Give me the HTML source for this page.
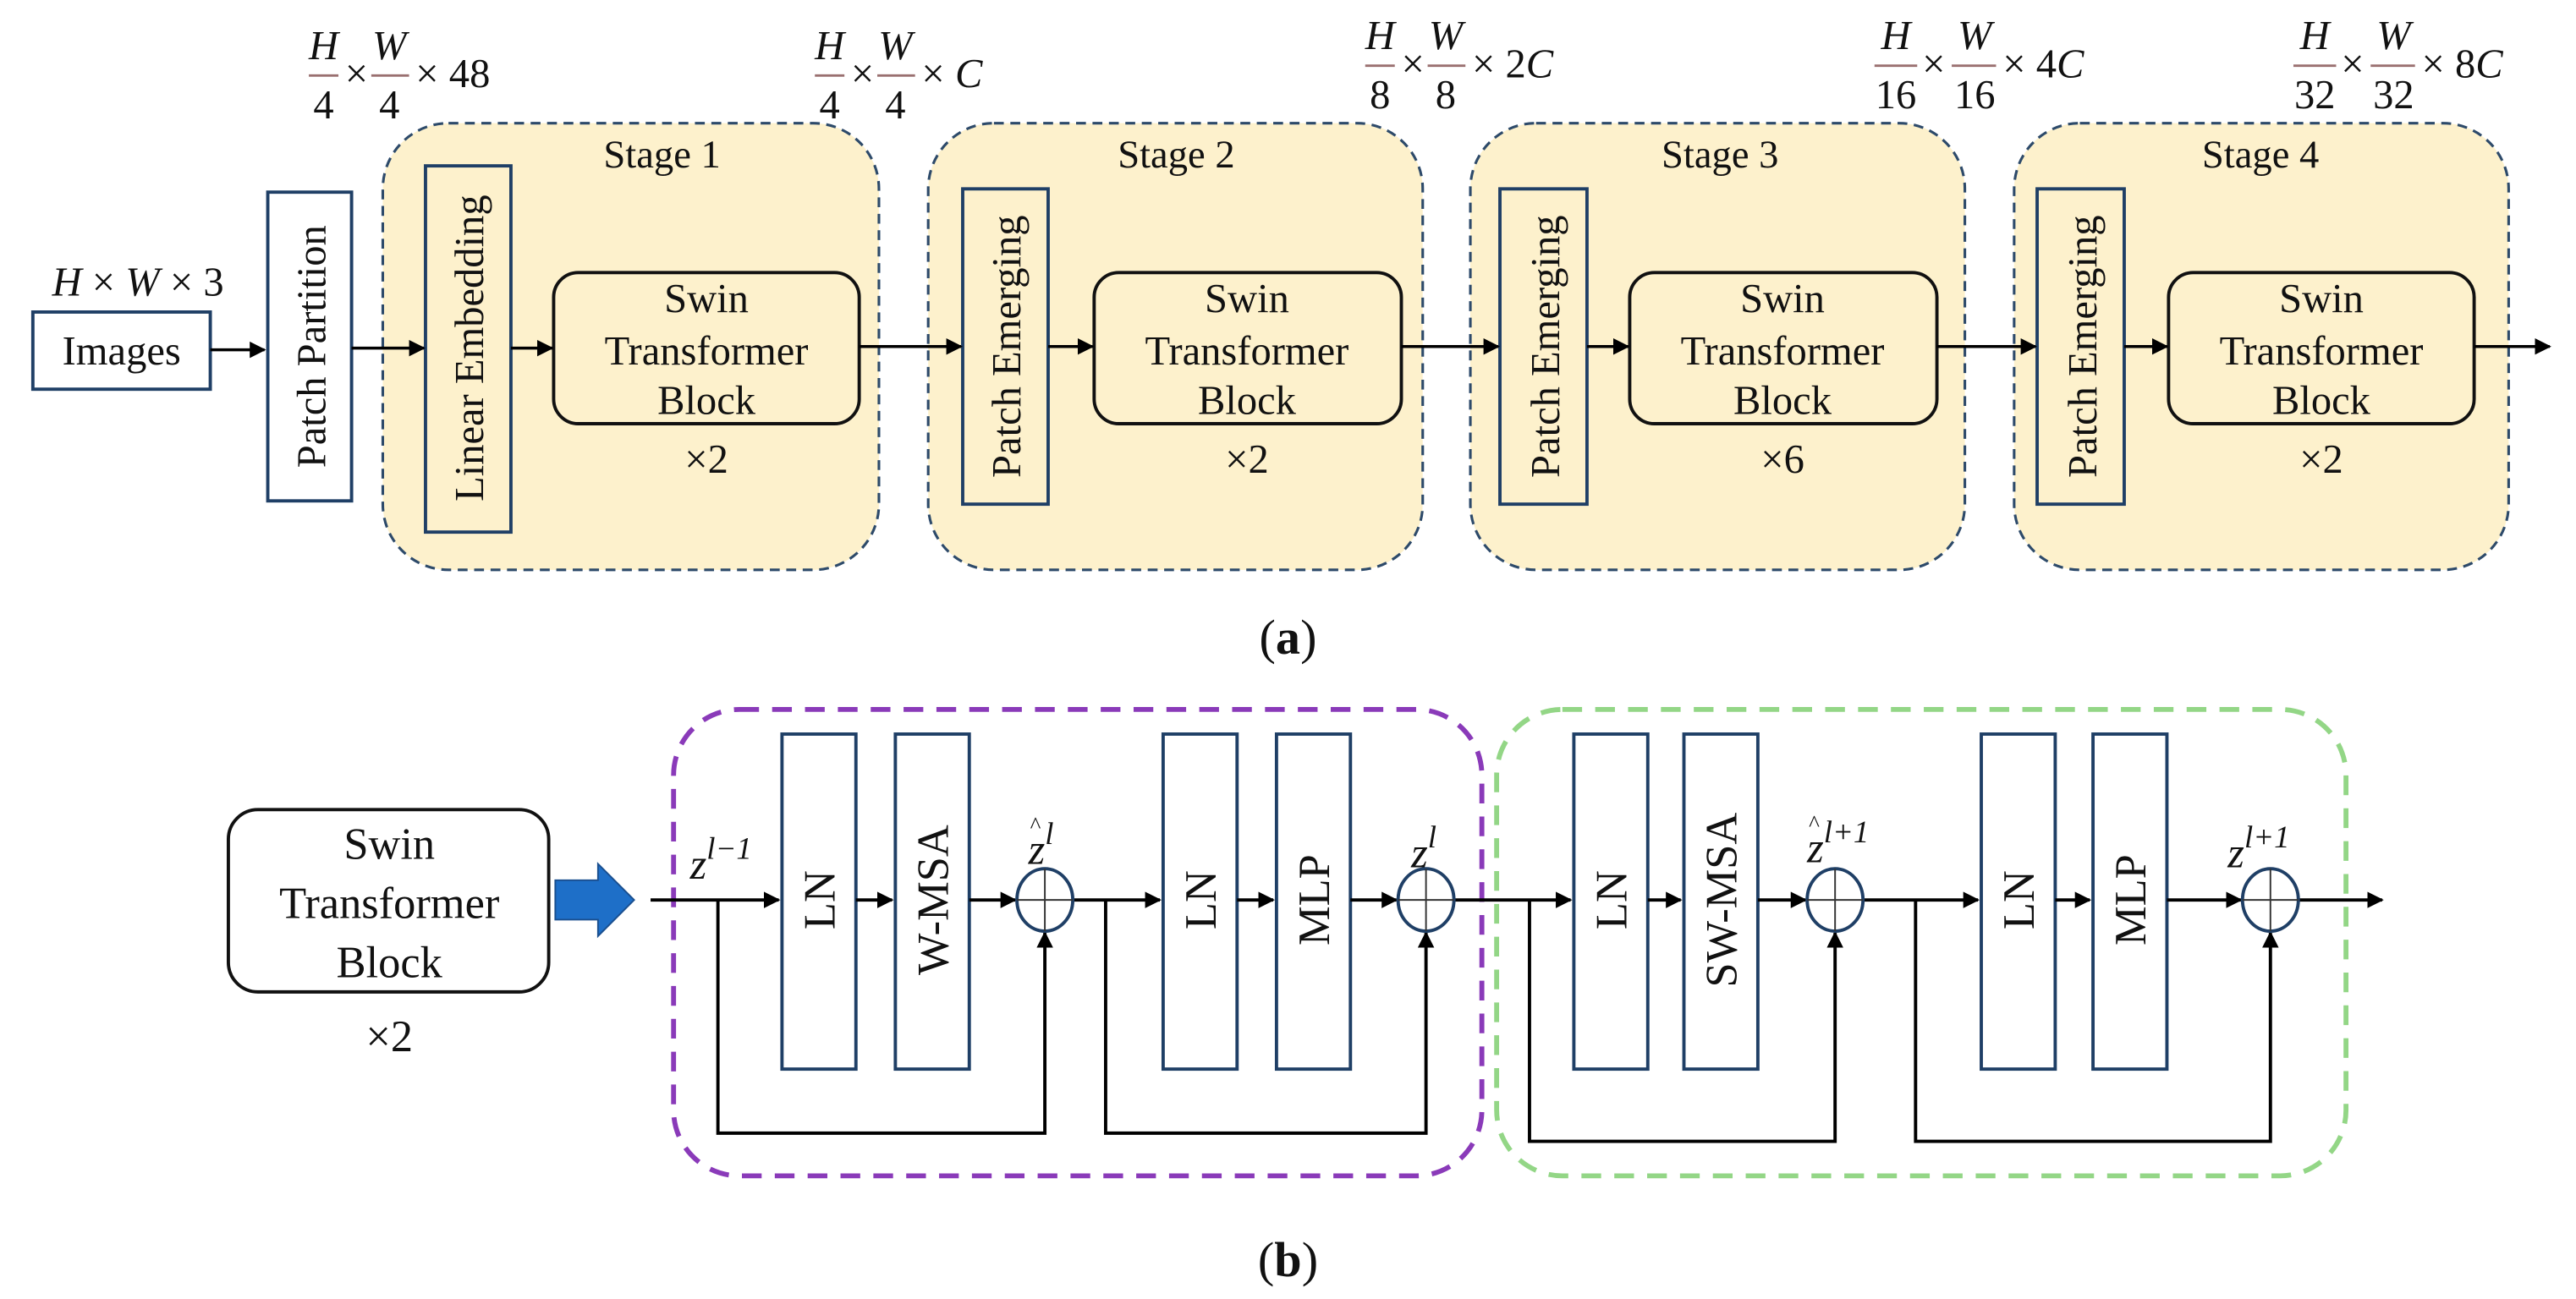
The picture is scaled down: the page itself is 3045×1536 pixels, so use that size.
<!DOCTYPE html>
<html><head><meta charset="utf-8"><style>
html,body{margin:0;padding:0;background:#fff;}
svg{display:block;font-family:"Liberation Serif","DejaVu Serif",serif;}
svg text{font-family:"Liberation Serif","DejaVu Serif",serif !important;fill:#111;}
.it{font-style:italic;}
</style></head><body>
<svg width="3045" height="1536" viewBox="0 0 1568 791" preserveAspectRatio="none" xmlns="http://www.w3.org/2000/svg" font-family="Liberation Serif, serif">
<defs>
<marker id="ah" markerWidth="10" markerHeight="10" refX="9" refY="5" orient="auto" markerUnits="userSpaceOnUse">
<path d="M0,0 L10,5 L0,10 Z" fill="#000"/></marker>
</defs>
<rect width="1568" height="791" fill="#fff"/>

<g fill="#fdf1cc" stroke="#2d4a6a" stroke-width="1.6" stroke-dasharray="6 4">
<rect x="233" y="75" width="302" height="272" rx="40"/>
<rect x="565" y="75" width="301" height="272" rx="40"/>
<rect x="895" y="75" width="301" height="272" rx="40"/>
<rect x="1226" y="75" width="301" height="272" rx="40"/>
</g>
<g font-size="24" text-anchor="middle">
<text x="403" y="102">Stage 1</text>
<text x="716" y="102">Stage 2</text>
<text x="1047" y="102">Stage 3</text>
<text x="1376" y="102">Stage 4</text>
</g>

<text x="84" y="180" font-size="25" text-anchor="middle"><tspan class="it">H</tspan> × <tspan class="it">W</tspan> × 3</text>
<rect x="20" y="190" width="108" height="47" fill="#fff" stroke="#1f3f66" stroke-width="2"/>
<text x="74" y="222" font-size="25" text-anchor="middle">Images</text>
<rect x="163" y="117" width="51" height="188" fill="#fff" stroke="#1f3f66" stroke-width="2"/>
<text transform="translate(198,211) rotate(-90)" font-size="25" text-anchor="middle">Patch Partition</text>

<g fill="none" stroke="#1f3f66" stroke-width="2">
<rect x="259" y="101" width="52" height="223"/>
<rect x="586" y="115" width="52" height="192"/>
<rect x="913" y="115" width="53" height="192"/>
<rect x="1240" y="115" width="53" height="192"/>
</g>
<g font-size="25" text-anchor="middle">
<text transform="translate(294,212) rotate(-90)">Linear Embedding</text>
<text transform="translate(621,211) rotate(-90)">Patch Emerging</text>
<text transform="translate(949,211) rotate(-90)">Patch Emerging</text>
<text transform="translate(1276,211) rotate(-90)">Patch Emerging</text>
</g>

<g fill="none" stroke="#111" stroke-width="2">
<rect x="337" y="166" width="186" height="92" rx="15"/>
<rect x="666" y="166" width="187" height="92" rx="15"/>
<rect x="992" y="166" width="187" height="92" rx="15"/>
<rect x="1320" y="166" width="186" height="92" rx="15"/>
</g>
<g font-size="25" text-anchor="middle">
<text x="430" y="190">Swin</text><text x="430" y="222">Transformer</text><text x="430" y="252">Block</text><text x="430" y="288">×2</text>
<text x="759" y="190">Swin</text><text x="759" y="222">Transformer</text><text x="759" y="252">Block</text><text x="759" y="288">×2</text>
<text x="1085" y="190">Swin</text><text x="1085" y="222">Transformer</text><text x="1085" y="252">Block</text><text x="1085" y="288">×6</text>
<text x="1413" y="190">Swin</text><text x="1413" y="222">Transformer</text><text x="1413" y="252">Block</text><text x="1413" y="288">×2</text>
</g>

<g stroke="#000" stroke-width="1.8" marker-end="url(#ah)">
<line x1="128" y1="213" x2="161" y2="213"/>
<line x1="214" y1="212" x2="258" y2="212"/>
<line x1="311" y1="212" x2="336" y2="212"/>
<line x1="523" y1="211" x2="585" y2="211"/>
<line x1="853" y1="211" x2="912" y2="211"/>
<line x1="1179" y1="211" x2="1239" y2="211"/>
<line x1="1293" y1="211" x2="1319" y2="211"/>
<line x1="638" y1="211" x2="665" y2="211"/>
<line x1="966" y1="211" x2="991" y2="211"/>
<line x1="1506" y1="211" x2="1552" y2="211"/>
</g>

<g font-size="25">
<g transform="translate(187,0)">
<text x="10" y="36" class="it" text-anchor="middle">H</text><line x1="1" y1="46" x2="19" y2="46" stroke="#9a7070" stroke-width="1.5"/><text x="10" y="72" text-anchor="middle">4</text>
<text x="23" y="53">×</text>
<text x="50" y="36" class="it" text-anchor="middle">W</text><line x1="39" y1="46" x2="62" y2="46" stroke="#9a7070" stroke-width="1.5"/><text x="50" y="72" text-anchor="middle">4</text>
<text x="66" y="53">× 48</text>
</g>
<g transform="translate(495,0)">
<text x="10" y="36" class="it" text-anchor="middle">H</text><line x1="1" y1="46" x2="19" y2="46" stroke="#9a7070" stroke-width="1.5"/><text x="10" y="72" text-anchor="middle">4</text>
<text x="23" y="53">×</text>
<text x="50" y="36" class="it" text-anchor="middle">W</text><line x1="39" y1="46" x2="62" y2="46" stroke="#9a7070" stroke-width="1.5"/><text x="50" y="72" text-anchor="middle">4</text>
<text x="66" y="53">× <tspan class="it">C</tspan></text>
</g>
<g transform="translate(830,0)">
<text x="10" y="30" class="it" text-anchor="middle">H</text><line x1="1" y1="40" x2="19" y2="40" stroke="#9a7070" stroke-width="1.5"/><text x="10" y="66" text-anchor="middle">8</text>
<text x="23" y="47">×</text>
<text x="50" y="30" class="it" text-anchor="middle">W</text><line x1="39" y1="40" x2="62" y2="40" stroke="#9a7070" stroke-width="1.5"/><text x="50" y="66" text-anchor="middle">8</text>
<text x="66" y="47">× 2<tspan class="it">C</tspan></text>
</g>
<g transform="translate(1140,0)">
<text x="14" y="30" class="it" text-anchor="middle">H</text><line x1="1" y1="40" x2="27" y2="40" stroke="#9a7070" stroke-width="1.5"/><text x="14" y="66" text-anchor="middle">16</text>
<text x="30" y="47">×</text>
<text x="62" y="30" class="it" text-anchor="middle">W</text><line x1="48" y1="40" x2="75" y2="40" stroke="#9a7070" stroke-width="1.5"/><text x="62" y="66" text-anchor="middle">16</text>
<text x="79" y="47">× 4<tspan class="it">C</tspan></text>
</g>
<g transform="translate(1395,0)">
<text x="14" y="30" class="it" text-anchor="middle">H</text><line x1="1" y1="40" x2="27" y2="40" stroke="#9a7070" stroke-width="1.5"/><text x="14" y="66" text-anchor="middle">32</text>
<text x="30" y="47">×</text>
<text x="62" y="30" class="it" text-anchor="middle">W</text><line x1="48" y1="40" x2="75" y2="40" stroke="#9a7070" stroke-width="1.5"/><text x="62" y="66" text-anchor="middle">32</text>
<text x="79" y="47">× 8<tspan class="it">C</tspan></text>
</g>
</g>

<text x="784" y="398" font-size="30" text-anchor="middle">(<tspan font-weight="bold">a</tspan>)</text>

<rect x="139" y="493" width="195" height="111" rx="18" fill="#fff" stroke="#111" stroke-width="2"/>
<g font-size="27" text-anchor="middle">
<text x="237" y="523">Swin</text><text x="237" y="559">Transformer</text><text x="237" y="595">Block</text><text x="237" y="640">×2</text>
</g>
<path d="M338,536 L364,536 L364,526 L386,548 L364,570 L364,560 L338,560 Z" fill="#1e6fc8" stroke="#1a4f8f" stroke-width="1"/>

<rect x="410" y="432" width="492" height="284" rx="40" fill="none" stroke="#8a3ab9" stroke-width="3" stroke-dasharray="12 8"/>
<rect x="911" y="432" width="517" height="284" rx="40" fill="none" stroke="#93d686" stroke-width="3" stroke-dasharray="12 8"/>

<g fill="#fff" stroke="#1f3f66" stroke-width="2">
<rect x="476" y="447" width="45" height="204"/>
<rect x="545" y="447" width="45" height="204"/>
<rect x="708" y="447" width="45" height="204"/>
<rect x="777" y="447" width="45" height="204"/>
<rect x="958" y="447" width="45" height="204"/>
<rect x="1025" y="447" width="45" height="204"/>
<rect x="1206" y="447" width="45" height="204"/>
<rect x="1274" y="447" width="45" height="204"/>
</g>
<g font-size="27" text-anchor="middle">
<text transform="translate(508,548) rotate(-90)">LN</text>
<text transform="translate(577,548) rotate(-90)">W-MSA</text>
<text transform="translate(740,548) rotate(-90)">LN</text>
<text transform="translate(809,548) rotate(-90)">MLP</text>
<text transform="translate(990,548) rotate(-90)">LN</text>
<text transform="translate(1057,548) rotate(-90)">SW-MSA</text>
<text transform="translate(1238,548) rotate(-90)">LN</text>
<text transform="translate(1306,548) rotate(-90)">MLP</text>
</g>

<g stroke="#000" stroke-width="2" fill="none">
<line x1="396" y1="548" x2="474" y2="548" marker-end="url(#ah)"/>
<line x1="521" y1="548" x2="543" y2="548" marker-end="url(#ah)"/>
<line x1="590" y1="548" x2="618" y2="548" marker-end="url(#ah)"/>
<line x1="653" y1="548" x2="706" y2="548" marker-end="url(#ah)"/>
<line x1="753" y1="548" x2="775" y2="548" marker-end="url(#ah)"/>
<line x1="822" y1="548" x2="850" y2="548" marker-end="url(#ah)"/>
<line x1="885" y1="548" x2="956" y2="548" marker-end="url(#ah)"/>
<line x1="1003" y1="548" x2="1023" y2="548" marker-end="url(#ah)"/>
<line x1="1070" y1="548" x2="1099" y2="548" marker-end="url(#ah)"/>
<line x1="1134" y1="548" x2="1204" y2="548" marker-end="url(#ah)"/>
<line x1="1251" y1="548" x2="1272" y2="548" marker-end="url(#ah)"/>
<line x1="1319" y1="548" x2="1364" y2="548" marker-end="url(#ah)"/>
<line x1="1399" y1="548" x2="1450" y2="548" marker-end="url(#ah)"/>
<polyline points="437,548 437,690 636,690 636,568" marker-end="url(#ah)"/>
<polyline points="673,548 673,690 868,690 868,568" marker-end="url(#ah)"/>
<polyline points="931,548 931,695 1117,695 1117,568" marker-end="url(#ah)"/>
<polyline points="1166,548 1166,695 1382,695 1382,568" marker-end="url(#ah)"/>
</g>
<g fill="#fff" stroke="#1f3f66" stroke-width="2">
<ellipse cx="636" cy="548" rx="17" ry="19"/>
<ellipse cx="868" cy="548" rx="17" ry="19"/>
<ellipse cx="1117" cy="548" rx="17" ry="19"/>
<ellipse cx="1382" cy="548" rx="17" ry="19"/>
</g>
<g stroke="#333" stroke-width="1">
<line x1="619" y1="548" x2="653" y2="548"/><line x1="636" y1="529" x2="636" y2="567"/>
<line x1="851" y1="548" x2="885" y2="548"/><line x1="868" y1="529" x2="868" y2="567"/>
<line x1="1100" y1="548" x2="1134" y2="548"/><line x1="1117" y1="529" x2="1117" y2="567"/>
<line x1="1365" y1="548" x2="1399" y2="548"/><line x1="1382" y1="529" x2="1382" y2="567"/>
</g>
<g font-size="26">
<text x="420" y="535" class="it">z<tspan font-size="19" dy="-12">l</tspan><tspan font-size="19">−1</tspan></text>
<text x="626" y="526" class="it">z<tspan font-size="19" dy="-12">l</tspan></text>
<text x="627" y="507" font-size="14" fill="#7a4a4a">^</text>
<text x="859" y="528" class="it">z<tspan font-size="19" dy="-12">l</tspan></text>
<text x="1100" y="525" class="it">z<tspan font-size="19" dy="-12">l</tspan><tspan font-size="19">+1</tspan></text>
<text x="1101" y="506" font-size="14" fill="#7a4a4a">^</text>
<text x="1356" y="528" class="it">z<tspan font-size="19" dy="-12">l</tspan><tspan font-size="19">+1</tspan></text>
</g>

<text x="784" y="777" font-size="30" text-anchor="middle">(<tspan font-weight="bold">b</tspan>)</text>
</svg>
</body></html>
